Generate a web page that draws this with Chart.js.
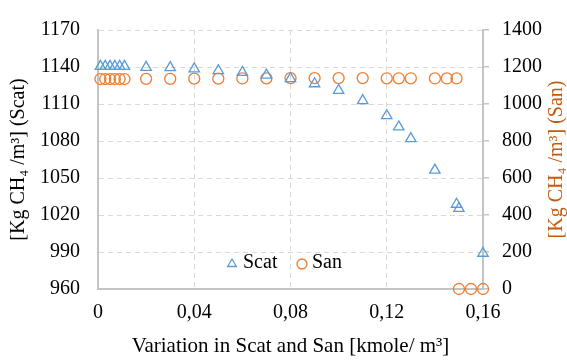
<html>
<head>
<title>Scat and San</title>
<style>
  html, body { margin: 0; padding: 0; background: #fff; }
  #wrap { width: 567px; height: 360px; }
</style>
</head>
<body>
<div id="wrap"><canvas id="chart" width="567" height="360"></canvas></div>
<script src="https://cdn.jsdelivr.net/npm/chart.js@4/dist/chart.umd.min.js"></script>
<script>
// x values (kmole/m3) and densities
const scatX = [0.001, 0.003, 0.005, 0.007, 0.009, 0.011, 0.02, 0.03, 0.04, 0.05, 0.06, 0.07, 0.08, 0.09, 0.10, 0.11, 0.12, 0.125, 0.13, 0.14, 0.149, 0.15, 0.16];
const scatY = [1140.5, 1140.5, 1140.5, 1140.5, 1140.5, 1140.5, 1139.7, 1139.5, 1138.5, 1137, 1135.6, 1133.4, 1130.6, 1126.4, 1121, 1112.7, 1100.5, 1091.4, 1081.9, 1056.4, 1028.7, 1025.3, 989];
const sanX = [0.001, 0.003, 0.005, 0.007, 0.009, 0.011, 0.02, 0.03, 0.04, 0.05, 0.06, 0.07, 0.08, 0.09, 0.10, 0.11, 0.12, 0.125, 0.13, 0.14, 0.145, 0.149, 0.15, 0.155, 0.16];
const sanY = [1135, 1135, 1135, 1135, 1135, 1135, 1136, 1136, 1137, 1137, 1138, 1139, 1140, 1140, 1140, 1140, 1139, 1139, 1139, 1138, 1138, 1138, 0, 0, 0];

const xTicks = [0, 0.04, 0.08, 0.12, 0.16];
const leftTitle = '[Kg CH\u2084 /m\u00b3] (Scat)';
const rightTitle = '[Kg CH\u2084 /m\u00b3] (San)';
const xTitle = 'Variation in Scat and San [kmole/ m\u00b3]';

const FONT = "'Liberation Serif', 'Times New Roman', serif";
const blue = '#5B9BD5';
const orange = '#ED7D31';
const axisGrey = '#c4c4c4';
const gridGrey = '#d9d9d9';

function pts(xs, ys) {
  return xs.map((x, i) => ({ x: x, y: ys[i] }));
}

// legend inside the plot + right axis title reading bottom-to-top
const extras = {
  id: 'extras',
  afterDraw(chart) {
    const ctx = chart.ctx;
    const area = chart.chartArea;
    ctx.save();
    ctx.font = '20px ' + FONT;
    ctx.textBaseline = 'middle';
    const items = [
      { ds: chart.data.datasets[0], x: 232, tx: 243 },
      { ds: chart.data.datasets[1], x: 302, tx: 312 }
    ];
    const ly = 263;
    items.forEach(it => {
      ctx.save();
      ctx.strokeStyle = it.ds.borderColor;
      ctx.fillStyle = 'rgba(0,0,0,0)';
      ctx.lineWidth = 1.3;
      Chart.helpers.drawPoint(ctx, { pointStyle: it.ds.pointStyle, radius: 5, borderWidth: 1.3, rotation: 0 }, it.x, ly + 1);
      ctx.restore();
      ctx.fillStyle = '#000';
      ctx.fillText(it.ds.label, it.tx, ly);
    });
    ctx.translate(557, (area.top + area.bottom) / 2);
    ctx.rotate(-Math.PI / 2);
    ctx.textAlign = 'center';
    ctx.fillStyle = '#C55A11';
    ctx.fillText(rightTitle, 0, 0);
    ctx.restore();
  }
};

const plain = v => String(v);

new Chart(document.getElementById('chart'), {
  type: 'scatter',
  data: {
    datasets: [
      {
        label: 'Scat',
        data: pts(scatX, scatY),
        yAxisID: 'y',
        pointStyle: 'triangle',
        pointRadius: 6,
        pointBorderWidth: 1.3,
        borderColor: blue,
        backgroundColor: 'rgba(0,0,0,0)',
        clip: false
      },
      {
        label: 'San',
        data: pts(sanX, sanY),
        yAxisID: 'y1',
        pointStyle: 'circle',
        pointRadius: 5.5,
        pointBorderWidth: 1.3,
        borderColor: orange,
        backgroundColor: 'rgba(0,0,0,0)',
        clip: false
      }
    ]
  },
  options: {
    responsive: false,
    animation: false,
    layout: { padding: { top: 19, left: 0, right: 0, bottom: 0 } },
    plugins: {
      legend: { display: false },
      tooltip: { enabled: false }
    },
    scales: {
      x: {
        type: 'linear',
        min: 0,
        max: 0.16,
        afterBuildTicks: s => { s.ticks = xTicks.map(v => ({ value: v })); },
        afterFit: s => { s.height = 71; },
        ticks: {
          padding: 12,
          color: '#000',
          font: { family: FONT, size: 20 },
          callback: v => v === 0 ? '0' : v.toFixed(2).replace('.', ',')
        },
        grid: { color: gridGrey, lineWidth: 1, drawTicks: false },
        border: { color: axisGrey, width: 2, dash: [5, 4] },
        title: {
          display: true,
          text: xTitle,
          color: '#000',
          font: { family: FONT, size: 21 },
          padding: { top: 0, bottom: 1 }
        }
      },
      y: {
        position: 'left',
        min: 960,
        max: 1170,
        afterFit: s => { s.width = 98; },
        ticks: {
          stepSize: 30,
          padding: 18,
          color: '#000',
          font: { family: FONT, size: 20 },
          callback: plain
        },
        grid: { color: gridGrey, lineWidth: 1, drawTicks: false },
        border: { color: axisGrey, width: 2, dash: [5, 4] },
        title: {
          display: true,
          text: leftTitle,
          color: '#000',
          font: { family: FONT, size: 20 },
          padding: { top: 7, bottom: 0 }
        }
      },
      y1: {
        position: 'right',
        min: 0,
        max: 1400,
        afterFit: s => { s.width = 84; },
        ticks: {
          stepSize: 200,
          padding: 13,
          color: '#000',
          font: { family: FONT, size: 20 },
          callback: plain
        },
        grid: { drawOnChartArea: false, color: axisGrey, lineWidth: 1.5, tickLength: 6 },
        border: { color: axisGrey, width: 2 }
      }
    }
  },
  plugins: [extras]
});
</script>
</body>
</html>
